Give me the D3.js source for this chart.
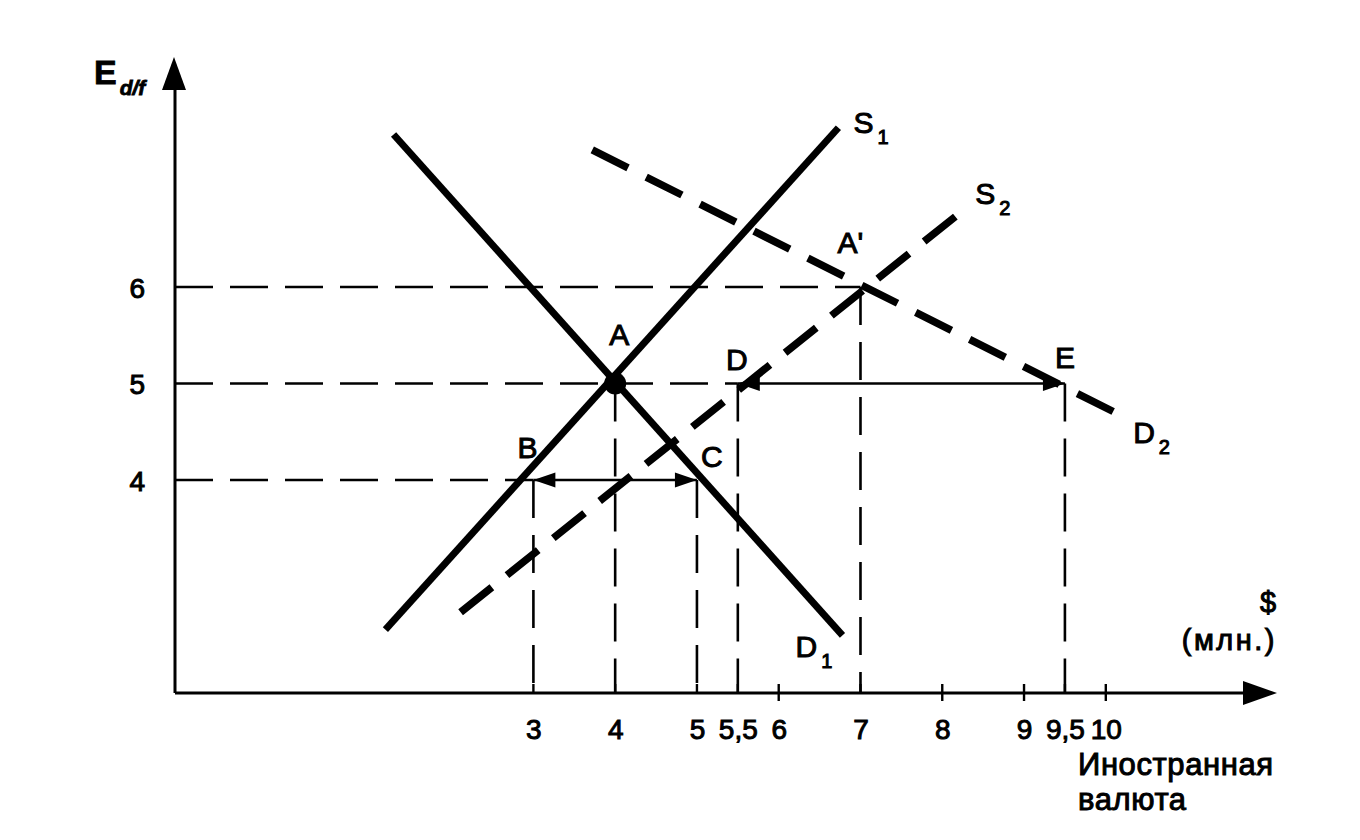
<!DOCTYPE html>
<html><head><meta charset="utf-8">
<script src="https://cdn.jsdelivr.net/npm/d3@7"></script>
<style>
body{margin:0;background:#fff}
text{font-family:"Liberation Sans",Arial,sans-serif;fill:#000}
</style>
</head><body>
<svg id="c" width="1360" height="840"></svg>
<script>
// ---- data ----
const xTicks = [3, 4, 5, 5.5, 6, 7, 8, 9, 9.5, 10];
const xTickLabels = ["3", "4", "5", "5,5", "6", "7", "8", "9", "9,5", "10"];
const xCrossTicks = [6, 8, 9, 10];
const yTicks = [4, 5, 6];
const yTickLabels = ["4", "5", "6"];
// curves: [x, y] endpoints
const S1 = [[1.19, 2.45], [6.73, 7.65]];
const D1 = [[1.29, 7.58], [6.78, 2.39]];
const S2 = [[2.11, 2.63], [8.16, 6.73]];
const D2 = [[3.72, 7.42], [10.09, 4.71]];
const pointNames = ["A", "A'", "B", "C", "D", "E"];
const pointX = [4, 7, 3, 5, 5.5, 9.5];
const pointY = [5, 6, 4, 4, 5, 5];
// horizontal guides: level -> to x
const hGuideY = [6, 5, 4];
const hGuideTo = [7, 5.5, 3];
// double arrows at a level: [from, to]
const arrowY = [4, 5];
const arrowFrom = [3, 5.5];
const arrowTo = [5, 9.5];

// ---- layout ----
const svg = d3.select("#c");
const ox = 175, oy = 693;
const x = d3.scaleLinear().domain([3, 10]).range([533.4, 1105.8]);
const y = d3.scaleLinear().domain([4, 6]).range([480, 287]);
const line = d3.line().x(d => x(d[0])).y(d => y(d[1]));
const TS = 1.0; // text stroke for scan-like weight

// guides (thin dashed)
const g = svg.append("g").attr("stroke", "#000").attr("stroke-width", 2.6)
  .attr("stroke-dasharray", "38,17").attr("fill", "none");
hGuideY.forEach((v, i) => {
  g.append("line").attr("x1", ox).attr("x2", x(hGuideTo[i])).attr("y1", y(v)).attr("y2", y(v));
});
pointX.forEach((v, i) => {
  g.append("line").attr("x1", x(v)).attr("x2", x(v)).attr("y1", y(pointY[i])).attr("y2", oy);
});

// double arrows
arrowY.forEach((v, i) => {
  const yy = y(v), a = x(arrowFrom[i]), b = x(arrowTo[i]);
  svg.append("line").attr("x1", a).attr("x2", b).attr("y1", yy).attr("y2", yy)
    .attr("stroke", "#000").attr("stroke-width", 2.4);
  const L = 22, W = 7.5;
  svg.append("path").attr("d", `M${a},${yy}L${a + L},${yy - W}L${a + L},${yy + W}Z`).attr("fill", "#000");
  svg.append("path").attr("d", `M${b},${yy}L${b - L},${yy - W}L${b - L},${yy + W}Z`).attr("fill", "#000");
});

// axes lines
svg.append("line").attr("x1", ox).attr("x2", ox).attr("y1", oy).attr("y2", 88)
  .attr("stroke", "#000").attr("stroke-width", 3);
svg.append("path").attr("d", `M${ox - 1},57L${ox + 11},90L${ox - 13},90Z`).attr("fill", "#000");
svg.append("line").attr("x1", ox).attr("x2", 1246).attr("y1", oy).attr("y2", oy)
  .attr("stroke", "#000").attr("stroke-width", 3);
svg.append("path").attr("d", `M1277,${oy}L1243,${oy - 12}L1243,${oy + 12}Z`).attr("fill", "#000");

// x axis ticks + labels
const xa = svg.append("g").attr("transform", `translate(0,${oy})`)
  .call(d3.axisBottom(x).tickValues(xTicks).tickFormat((d, i) => xTickLabels[i]).tickSize(0).tickPadding(26));
xa.select(".domain").remove();
xa.selectAll("text").attr("font-size", 28).attr("font-family", "Liberation Sans, Arial, sans-serif")
  .attr("stroke", "#000").attr("stroke-width", TS);
xTicks.forEach(v => {
  const cross = xCrossTicks.includes(v);
  svg.append("line").attr("x1", x(v)).attr("x2", x(v)).attr("y1", oy - 9).attr("y2", cross ? oy + 8 : oy)
    .attr("stroke", "#000").attr("stroke-width", 2.4);
});

// y axis labels
const ya = svg.append("g").attr("transform", `translate(${ox},0)`)
  .call(d3.axisLeft(y).tickValues(yTicks).tickFormat((d, i) => yTickLabels[i]).tickSize(0).tickPadding(30));
ya.select(".domain").remove();
ya.selectAll("text").attr("font-size", 28).attr("font-family", "Liberation Sans, Arial, sans-serif")
  .attr("stroke", "#000").attr("stroke-width", TS).attr("dy", "0.36em");

// curves
function dashedCurve(data, w, dash) {
  const p = svg.append("path").datum(data).attr("d", line).attr("stroke", "#000")
    .attr("stroke-width", w).attr("fill", "none");
  if (dash) {
    const L = p.node().getTotalLength();
    const n = Math.round((L + dash[1]) / (dash[0] + dash[1]));
    const gap = (L - n * dash[0]) / (n - 1);
    p.attr("stroke-dasharray", `${dash[0]},${gap}`);
  }
  return p;
}
dashedCurve(S1, 7);
dashedCurve(D1, 7);
dashedCurve(S2, 7.5, [40, 20]);
dashedCurve(D2, 7.5, [40, 21]);

// equilibrium point A
svg.append("circle").attr("cx", x(pointX[0])).attr("cy", y(pointY[0])).attr("r", 11).attr("fill", "#000");

// point labels
const labelOff = {"A": [4, -39], "A'": [-10, -34], "B": [-6, -22], "C": [15, -13], "D": [-1, -14], "E": [0, -16]};
pointNames.forEach((n, i) => {
  svg.append("text").attr("x", x(pointX[i]) + labelOff[n][0]).attr("y", y(pointY[i]) + labelOff[n][1])
    .attr("text-anchor", "middle").attr("font-size", 30).attr("stroke", "#000").attr("stroke-width", TS).text(n);
});

// curve labels
function curveLabel(pt, dx, dy, main, sub) {
  const t = svg.append("text").attr("x", x(pt[0]) + dx).attr("y", y(pt[1]) + dy)
    .attr("font-size", 30).attr("stroke", "#000").attr("stroke-width", TS);
  t.append("tspan").text(main);
  t.append("tspan").attr("font-size", 20).attr("dx", 4).attr("dy", 11).text(sub);
}
curveLabel(S1[1], 15, 5, "S", "1");
curveLabel(S2[1], 20, -13, "S", "2");
curveLabel(D2[1], 20, 32, "D", "2");
curveLabel(D1[1], -47, 22, "D", "1");

// axis titles
const yt = svg.append("text").attr("x", 94).attr("y", 84).attr("font-size", 34).attr("font-weight", "bold")
  .attr("stroke", "#000").attr("stroke-width", 0.8);
yt.append("tspan").text("E");
yt.append("tspan").attr("font-size", 21).attr("font-style", "italic").attr("dx", 3).attr("dy", 11).text("d/f");

svg.append("text").attr("x", 1268).attr("y", 612).attr("text-anchor", "middle").attr("font-size", 29)
  .attr("stroke", "#000").attr("stroke-width", TS).text("$");
svg.append("text").attr("x", 1277).attr("y", 650).attr("text-anchor", "end").attr("font-size", 29)
  .attr("letter-spacing", 2.5).attr("stroke", "#000").attr("stroke-width", TS).text("(млн.)");
svg.append("text").attr("x", 1078).attr("y", 775).attr("font-size", 31).attr("letter-spacing", 0.6)
  .attr("stroke", "#000").attr("stroke-width", TS).text("Иностранная");
svg.append("text").attr("x", 1078).attr("y", 810).attr("font-size", 31).attr("letter-spacing", 0.6)
  .attr("stroke", "#000").attr("stroke-width", TS).text("валюта");
</script>
</body></html>
